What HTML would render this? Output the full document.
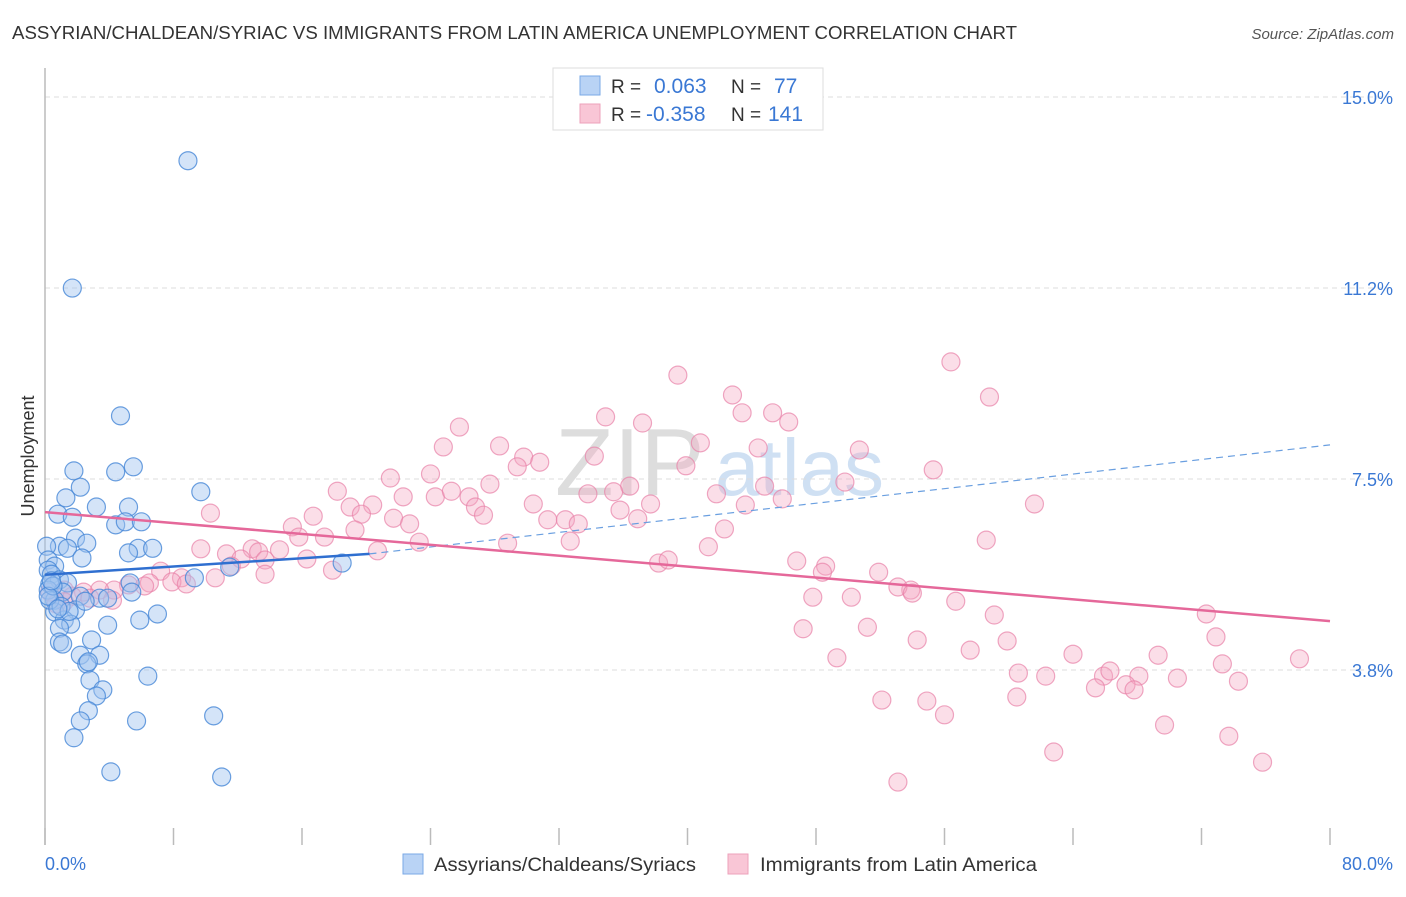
<!DOCTYPE html>
<html><head><meta charset="utf-8"><style>
body{margin:0;background:#fff;font-family:"Liberation Sans",sans-serif}
svg text{font-family:"Liberation Sans",sans-serif}
</style></head><body>
<svg id="c" width="1406" height="892" xmlns="http://www.w3.org/2000/svg">
<text x="12" y="39" font-size="18" fill="#333" textLength="1005" lengthAdjust="spacingAndGlyphs">ASSYRIAN/CHALDEAN/SYRIAC VS IMMIGRANTS FROM LATIN AMERICA UNEMPLOYMENT CORRELATION CHART</text>
<text x="1394" y="39" font-size="15" fill="#555" font-style="italic" text-anchor="end">Source: ZipAtlas.com</text>
<text x="555" y="495" font-size="96" fill="#ddd" font-family="Liberation Serif">ZIP</text>
<text x="715" y="495" font-size="80" fill="#cfe0f3">atlas</text>
<g id="grid"></g><g id="pts"></g><g id="lines"></g>
<text transform="translate(34,456) rotate(-90)" font-size="18" fill="#333" text-anchor="middle">Unemployment</text>
<text x="45" y="870" font-size="18" fill="#3a78d4">0.0%</text>
<text x="1393" y="870" font-size="18" fill="#3a78d4" text-anchor="end">80.0%</text>
<g>
<rect x="553" y="68" width="270" height="62" fill="#fff" stroke="#ddd"/>
<rect x="580" y="76" width="20" height="19" fill="#b9d3f5" stroke="#7aa8e6"/>
<rect x="580" y="104" width="20" height="19" fill="#f9c6d6" stroke="#eda1bb"/>
<text x="611" y="93" font-size="19" fill="#333">R =</text><text x="654" y="93" font-size="21" fill="#3a78d4">0.063</text>
<text x="731" y="93" font-size="19" fill="#333">N =</text><text x="774" y="93" font-size="21" fill="#3a78d4">77</text>
<text x="611" y="121" font-size="19" fill="#333">R =</text><text x="646" y="121" font-size="21" fill="#3a78d4">-0.358</text>
<text x="731" y="121" font-size="19" fill="#333">N =</text><text x="768" y="121" font-size="21" fill="#3a78d4">141</text>
</g>
<g>
<rect x="403" y="854" width="20" height="20" fill="#b9d3f5" stroke="#7aa8e6"/>
<text x="434" y="871" font-size="19" fill="#333" textLength="262" lengthAdjust="spacingAndGlyphs">Assyrians/Chaldeans/Syriacs</text>
<rect x="728" y="854" width="20" height="20" fill="#f9c6d6" stroke="#eda1bb"/>
<text x="760" y="871" font-size="19" fill="#333" textLength="277" lengthAdjust="spacingAndGlyphs">Immigrants from Latin America</text>
</g>
</svg>
<script>
const yTicks=[3.75,7.5,11.25,15];
const yTickLabels=["3.8%","7.5%","11.2%","15.0%"];
const xTicks=[0,8,16,24,32,40,48,56,64,72,80];
const blueX=[8.9,1.7,4.7,1.8,5.5,4.4,2.2,1.3,9.7,3.2,5.2,0.8,1.7,4.4,5.0,6.0,1.9,2.6,0.9,0.1,1.4,5.8,6.7,5.2,2.3,0.2,0.6,0.2,0.4,11.5,18.5,0.9,1.4,5.3,0.3,9.3,0.2,1.1,5.4,2.2,3.4,3.9,0.6,1.9,0.6,5.9,7.0,1.2,1.6,3.9,0.9,2.9,0.9,1.1,2.2,3.4,2.6,2.7,6.4,2.8,3.6,3.2,10.5,2.7,2.2,5.7,1.8,4.1,11.0,0.3,0.5,1.0,0.2,1.5,2.5,0.4,0.8];
const blueY=[13.75,11.25,8.74,7.66,7.74,7.64,7.34,7.13,7.25,6.95,6.95,6.81,6.75,6.6,6.66,6.66,6.34,6.24,6.18,6.18,6.14,6.14,6.14,6.05,5.95,5.91,5.79,5.71,5.63,5.77,5.85,5.52,5.46,5.46,5.44,5.56,5.32,5.28,5.28,5.2,5.16,5.16,5.12,4.93,4.89,4.73,4.85,4.73,4.65,4.63,4.57,4.34,4.3,4.26,4.04,4.04,3.87,3.91,3.63,3.55,3.36,3.24,2.85,2.95,2.75,2.75,2.42,1.75,1.65,5.12,5.4,5.0,5.2,4.9,5.1,5.5,4.95];
const pinkX=[39.4,56.4,42.8,58.8,34.9,37.2,25.8,43.4,45.3,46.3,24.8,28.3,40.8,34.2,50.7,44.4,29.8,30.8,29.4,39.9,24.0,21.5,55.3,27.7,36.4,49.8,44.8,18.2,22.3,24.3,25.3,26.4,33.8,35.4,41.8,45.9,19.0,20.4,26.8,27.3,30.4,35.8,37.7,43.6,61.6,10.3,16.7,19.7,21.7,22.7,31.3,32.4,33.2,36.9,15.4,15.8,17.4,19.3,42.3,23.3,28.8,32.7,58.6,9.7,11.3,12.9,13.3,14.6,12.2,13.7,16.3,20.7,41.3,11.6,46.8,38.2,38.8,48.6,48.4,7.2,13.7,17.9,51.9,8.5,10.6,6.5,7.9,8.8,5.2,6.2,53.9,53.1,4.3,3.4,2.4,1.2,0.3,1.7,2.8,4.2,0.7,1.2,50.2,54.0,47.8,56.7,59.1,72.3,47.2,51.2,72.9,54.3,59.9,57.6,64.0,69.3,49.3,73.3,78.1,60.6,62.3,65.9,66.3,68.1,70.5,74.3,65.4,67.3,67.8,60.5,52.1,54.9,56.0,69.7,73.7,62.8,75.8,53.1];
const pinkY=[9.54,9.8,9.15,9.11,8.72,8.6,8.52,8.8,8.8,8.62,8.13,8.15,8.21,7.95,8.07,8.11,7.93,7.83,7.74,7.76,7.6,7.52,7.68,7.4,7.36,7.44,7.36,7.26,7.15,7.15,7.26,7.15,7.21,7.25,7.21,7.11,6.95,6.99,6.95,6.79,7.01,6.89,7.01,6.99,7.01,6.83,6.77,6.81,6.73,6.62,6.7,6.7,6.62,6.72,6.56,6.36,6.36,6.5,6.52,6.26,6.24,6.28,6.3,6.13,6.03,6.13,6.07,6.11,5.93,5.91,5.93,6.09,6.17,5.79,5.89,5.85,5.91,5.79,5.67,5.69,5.63,5.71,5.67,5.56,5.56,5.46,5.48,5.44,5.42,5.4,5.32,5.38,5.32,5.32,5.28,5.32,5.28,5.2,5.16,5.12,5.05,5.09,5.18,5.26,5.18,5.1,4.83,4.85,4.56,4.59,4.4,4.34,4.32,4.14,4.06,4.04,3.99,3.87,3.97,3.69,3.63,3.63,3.73,3.63,3.59,3.53,3.4,3.46,3.36,3.22,3.16,3.14,2.87,2.67,2.45,2.14,1.94,1.55];
const blueTrendX=[0,20.2,80];
const blueTrendY=[5.62,6.03,8.17];
const pinkTrendX=[0,80];
const pinkTrendY=[6.85,4.71];
const NS="http://www.w3.org/2000/svg";
function sx(v){return 45+v*(1285/80);}
function sy(v){return 861-v*50.93;}
function mk(t,a,p){const e=document.createElementNS(NS,t);for(const k in a)e.setAttribute(k,a[k]);p.appendChild(e);return e;}
const grid=document.getElementById('grid');
yTicks.forEach((t,i)=>{
 const l=mk('line',{x1:45,x2:1393,y1:sy(t),y2:sy(t),stroke:'#ddd','stroke-dasharray':'5,4'},grid);
 
 
 const tx=mk('text',{x:1393,y:sy(t)+7,'font-size':18,fill:'#3a78d4','text-anchor':'end'},grid);
 tx.textContent=yTickLabels[i];
 
 
});
const ax=mk('line',{x1:45,x2:45,y1:68,y2:845,stroke:'#bbb','stroke-width':1.5},grid);


xTicks.forEach(t=>{
 const l=mk('line',{x1:sx(t),x2:sx(t),y1:828,y2:845,stroke:'#bbb','stroke-width':1.5},grid);
 
 
});
const pts=document.getElementById('pts');
pinkX.forEach((x,i)=>{
 const c=mk('circle',{cx:sx(x),cy:sy(pinkY[i]),r:9,fill:'rgba(244,168,195,0.38)',stroke:'rgba(232,130,168,0.7)','stroke-width':1.2},pts);
 
 
});
blueX.forEach((x,i)=>{
 const c=mk('circle',{cx:sx(x),cy:sy(blueY[i]),r:9,fill:'rgba(160,196,240,0.45)',stroke:'rgba(70,135,215,0.8)','stroke-width':1.2},pts);
 
 
});
const lg=document.getElementById('lines');
const b1=mk('line',{x1:sx(blueTrendX[0]),y1:sy(blueTrendY[0]),x2:sx(blueTrendX[1]),y2:sy(blueTrendY[1]),stroke:'#2f6fd0','stroke-width':2.5},lg);


const b2=mk('line',{x1:sx(blueTrendX[1]),y1:sy(blueTrendY[1]),x2:sx(blueTrendX[2]),y2:sy(blueTrendY[2]),stroke:'#6a9fe0','stroke-width':1.2,'stroke-dasharray':'7,5'},lg);


const p1=mk('line',{x1:sx(pinkTrendX[0]),y1:sy(pinkTrendY[0]),x2:sx(pinkTrendX[1]),y2:sy(pinkTrendY[1]),stroke:'#e5689a','stroke-width':2.5},lg);


</script>
</body></html>
